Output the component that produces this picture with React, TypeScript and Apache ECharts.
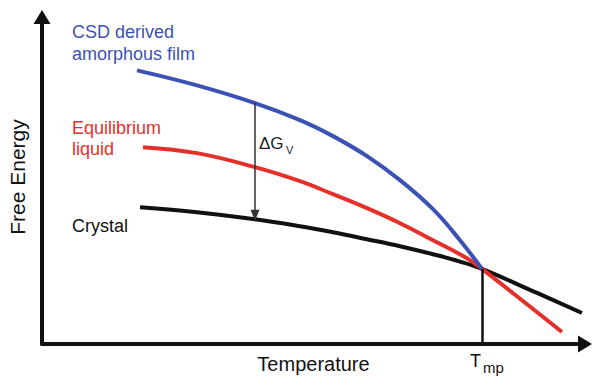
import React, { useEffect, useRef } from "react";
import * as echarts from "echarts";

// Temperature (arbitrary units) and free energy (arbitrary units) for each phase
const amorphousT = [19, 31, 42.6, 51.6, 58.2, 65, 71.6, 78.2, 83.6, 88];
const amorphousG = [82.0, 77.5, 72.2, 67.1, 62.3, 56.3, 49.1, 40.4, 31.1, 22.5];

const liquidT = [20.2, 31, 42.6, 51.6, 58.2, 65, 71.6, 78.2, 85, 88, 104];
const liquidG = [59.0, 57.2, 53.0, 48.8, 44.9, 40.7, 36.2, 31.1, 25.7, 22.5, 3.6];

const crystalT = [19.6, 31, 42.6, 51.6, 58.2, 65, 71.6, 78.2, 83.6, 88, 99, 108];
const crystalG = [41.0, 39.5, 37.4, 35.3, 33.5, 31.4, 29.3, 26.9, 24.7, 22.5, 15.3, 9.3];

// Melting point where the liquid and crystal curves meet
const meltT = 88;
const meltG = 22.5;

// Driving force shown between the amorphous film and the crystal
const deltaT = 42.6;
const deltaTop = 72.2;
const deltaBottom = 38.6;

const FONT = "'Liberation Sans', Arial, Helvetica, sans-serif";
const BLUE = "#3b52b4";
const RED = "#e5302a";
const BLACK = "#111111";

const pairs = (xs: number[], ys: number[]) => xs.map((x, i) => [x, ys[i]]);

export default function App() {
  const ref = useRef<HTMLDivElement>(null);

  useEffect(() => {
    if (!ref.current) return;
    const chart = echarts.init(ref.current, null, { renderer: "svg" });
    chart.setOption({
      animation: false,
      backgroundColor: "#ffffff",
      grid: { left: 42, right: 7, top: 17, bottom: 33, outerBoundsMode: "none" },
      xAxis: {
        type: "value",
        min: 0,
        max: 108.6,
        name: "Temperature",
        nameLocation: "middle",
        nameGap: 10,
        nameTextStyle: { fontFamily: FONT, fontSize: 20, color: BLACK },
        axisLine: {
          show: true,
          symbol: ["none", "triangle"],
          symbolSize: [17, 14],
          lineStyle: { color: BLACK, width: 4 },
        },
        axisTick: { show: false },
        axisLabel: { show: false },
        splitLine: { show: false },
      },
      yAxis: {
        type: "value",
        min: 0,
        max: 98,
        axisLine: {
          show: true,
          symbol: ["none", "triangle"],
          symbolSize: [17, 14],
          lineStyle: { color: BLACK, width: 4 },
        },
        axisTick: { show: false },
        axisLabel: { show: false },
        splitLine: { show: false },
      },
      series: [
        {
          name: "Crystal",
          type: "line",
          data: pairs(crystalT, crystalG),
          smooth: 0.4,
          showSymbol: false,
          lineStyle: { color: BLACK, width: 4 },
          z: 2,
          markLine: {
            silent: true,
            symbol: ["none", "none"],
            label: { show: false },
            lineStyle: { color: BLACK, width: 2.5, type: "solid" },
            data: [[{ coord: [meltT, meltG] }, { coord: [meltT, 0] }]],
          },
        },
        {
          name: "Equilibrium liquid",
          type: "line",
          data: pairs(liquidT, liquidG),
          smooth: 0.4,
          showSymbol: false,
          lineStyle: { color: RED, width: 4 },
          z: 3,
        },
        {
          name: "CSD derived amorphous film",
          type: "line",
          data: pairs(amorphousT, amorphousG),
          smooth: 0.4,
          showSymbol: false,
          lineStyle: { color: BLUE, width: 4 },
          z: 4,
          markLine: {
            silent: true,
            symbol: ["none", "triangle"],
            symbolSize: [9, 11],
            label: { show: false },
            lineStyle: { color: "#333333", width: 1.5, type: "solid" },
            itemStyle: { color: "#333333" },
            data: [[{ coord: [deltaT, deltaTop] }, { coord: [deltaT, deltaBottom] }]],
          },
        },
      ],
      graphic: [
        {
          type: "text",
          x: 17,
          y: 177,
          rotation: Math.PI / 2,
          style: {
            text: "Free Energy",
            fill: BLACK,
            font: `21px ${FONT}`,
            align: "center",
            verticalAlign: "middle",
          },
        },
        { type: "text", left: 72, top: 23, style: { text: "CSD derived", fill: BLUE, font: `18px ${FONT}` } },
        { type: "text", left: 72, top: 45, style: { text: "amorphous film", fill: BLUE, font: `18px ${FONT}` } },
        { type: "text", left: 72, top: 119, style: { text: "Equilibrium", fill: RED, font: `18px ${FONT}` } },
        { type: "text", left: 72, top: 140, style: { text: "liquid", fill: RED, font: `18px ${FONT}` } },
        { type: "text", left: 72, top: 217, style: { text: "Crystal", fill: BLACK, font: `18px ${FONT}` } },
        { type: "text", left: 259, top: 135, style: { text: "\u0394G", fill: "#222222", font: `17px ${FONT}` } },
        { type: "text", left: 286, top: 144, style: { text: "V", fill: "#222222", font: `11px ${FONT}` } },
        { type: "text", left: 470, top: 352, style: { text: "T", fill: BLACK, font: `18px ${FONT}` } },
        { type: "text", left: 483, top: 360, style: { text: "mp", fill: BLACK, font: `15px ${FONT}` } },
      ],
    });
    return () => chart.dispose();
  }, []);

  return (
    <div
      ref={ref}
      style={{ position: "fixed", left: 0, top: 0, width: 592, height: 377 }}
    />
  );
}
